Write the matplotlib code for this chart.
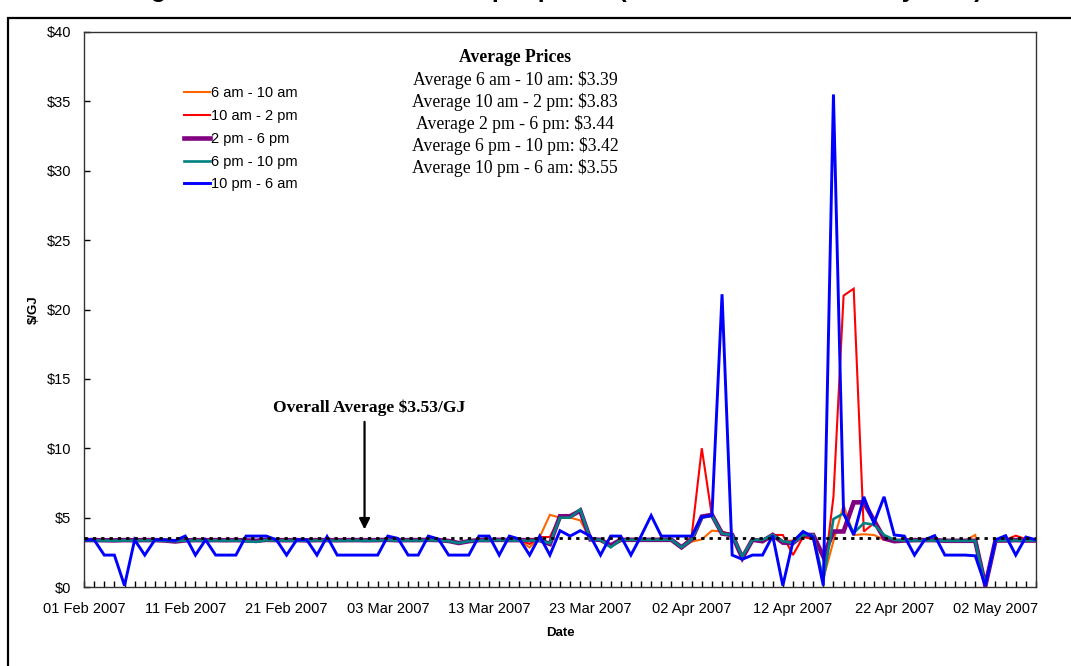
import matplotlib
matplotlib.use('Agg')
import matplotlib.pyplot as plt
import matplotlib.dates as mdates
from matplotlib.patches import Rectangle
import pandas as pd

# ---- data (daily, 01 Feb 2007 - 06 May 2007) ----
dates = pd.date_range('2007-02-01', periods=95, freq='D')

price_6am_10am = [
    3.35, 3.35, 3.33, 3.32, 3.35, 3.33, 3.34, 3.35, 3.33, 3.30,
    3.33, 3.35, 3.33, 3.35, 3.34, 3.35, 3.30, 3.28, 3.35, 3.35,
    3.34, 3.35, 3.33, 3.35, 3.35, 3.34, 3.35, 3.35, 3.34, 3.35,
    3.35, 3.33, 3.35, 3.35, 3.38, 3.35, 3.30, 3.17, 3.30, 3.35,
    3.35, 3.36, 3.35, 3.35, 2.85, 3.60, 5.20, 5.00, 5.00, 4.80,
    3.43, 3.40, 2.95, 3.40, 3.40, 3.40, 3.40, 3.40, 3.40, 2.86,
    3.27, 3.43, 4.06, 4.00, 3.60, 2.15, 3.40, 3.40, 3.75, 3.30,
    3.35, 3.75, 3.60, 0.60, 3.30, 5.90, 3.75, 3.80, 3.75, 3.40,
    3.35, 3.35, 3.35, 3.35, 3.35, 3.35, 3.35, 3.35, 3.75, 0.10,
    3.35, 3.35, 3.40, 3.35, 3.35]

price_10am_2pm = [
    3.38, 3.38, 3.37, 3.36, 3.38, 3.37, 3.38, 3.38, 3.36, 3.32,
    3.36, 3.38, 3.37, 3.38, 3.37, 3.38, 3.35, 3.33, 3.40, 3.38,
    3.37, 3.38, 3.36, 3.38, 3.38, 3.37, 3.38, 3.38, 3.37, 3.38,
    3.40, 3.37, 3.38, 3.38, 3.40, 3.38, 3.32, 3.17, 3.30, 3.38,
    3.38, 3.40, 3.38, 3.38, 3.10, 3.60, 3.60, 5.10, 5.10, 5.50,
    3.43, 3.40, 3.00, 3.40, 3.40, 3.40, 3.40, 3.40, 3.40, 2.86,
    3.67, 10.00, 5.10, 4.00, 3.75, 2.15, 3.40, 3.40, 3.75, 3.75,
    2.30, 3.60, 3.45, 0.50, 6.50, 21.00, 21.50, 4.00, 4.60, 3.50,
    3.38, 3.38, 3.38, 3.38, 3.38, 3.35, 3.35, 3.35, 3.35, 0.10,
    3.38, 3.40, 3.70, 3.45, 3.40]

price_2pm_6pm = [
    3.38, 3.38, 3.37, 3.36, 3.38, 3.37, 3.38, 3.38, 3.35, 3.28,
    3.36, 3.38, 3.37, 3.38, 3.37, 3.38, 3.36, 3.33, 3.40, 3.38,
    3.37, 3.38, 3.36, 3.38, 3.38, 3.37, 3.38, 3.38, 3.37, 3.38,
    3.40, 3.37, 3.38, 3.38, 3.40, 3.38, 3.32, 3.17, 3.30, 3.38,
    3.38, 3.40, 3.38, 3.38, 3.38, 3.38, 3.10, 5.10, 5.10, 5.50,
    3.43, 3.40, 3.00, 3.40, 3.40, 3.40, 3.40, 3.40, 3.40, 2.86,
    3.43, 5.07, 5.20, 3.85, 3.75, 2.10, 3.40, 3.30, 3.75, 3.20,
    3.17, 3.75, 3.75, 2.20, 4.00, 4.00, 6.10, 6.10, 4.80, 3.50,
    3.30, 3.35, 3.38, 3.38, 3.38, 3.33, 3.33, 3.33, 3.33, 0.10,
    3.35, 3.35, 3.38, 3.35, 3.35]

price_6pm_10pm = [
    3.35, 3.35, 3.34, 3.33, 3.35, 3.34, 3.35, 3.35, 3.33, 3.30,
    3.34, 3.35, 3.34, 3.35, 3.34, 3.35, 3.30, 3.25, 3.38, 3.35,
    3.34, 3.35, 3.33, 3.35, 3.35, 3.34, 3.35, 3.35, 3.34, 3.35,
    3.38, 3.34, 3.35, 3.35, 3.38, 3.35, 3.30, 3.17, 3.30, 3.35,
    3.35, 3.38, 3.35, 3.35, 3.35, 3.35, 3.15, 5.00, 5.00, 5.60,
    3.43, 3.40, 2.86, 3.40, 3.40, 3.40, 3.40, 3.40, 3.40, 2.86,
    3.43, 5.00, 5.15, 3.85, 3.75, 2.20, 3.40, 3.40, 3.75, 3.30,
    3.17, 3.75, 3.75, 0.50, 4.90, 5.30, 3.90, 4.60, 4.50, 3.75,
    3.40, 3.35, 3.35, 3.35, 3.35, 3.33, 3.33, 3.33, 3.33, 0.10,
    3.35, 3.35, 3.35, 3.35, 3.35]

price_10pm_6am = [
    3.40, 3.40, 2.30, 2.30, 0.10, 3.40, 2.30, 3.40, 3.40, 3.35,
    3.67, 2.30, 3.40, 2.30, 2.30, 2.30, 3.67, 3.67, 3.67, 3.40,
    2.30, 3.40, 3.40, 2.30, 3.63, 2.30, 2.30, 2.30, 2.30, 2.30,
    3.67, 3.50, 2.30, 2.30, 3.67, 3.45, 2.30, 2.30, 2.30, 3.67,
    3.67, 2.30, 3.67, 3.45, 2.30, 3.67, 2.30, 4.06, 3.67, 4.06,
    3.67, 2.30, 3.67, 3.67, 2.30, 3.67, 5.15, 3.67, 3.67, 3.67,
    3.67, 5.05, 5.15, 21.10, 2.30, 2.00, 2.30, 2.30, 3.70, 0.10,
    3.27, 4.00, 3.60, 0.10, 35.50, 5.30, 3.75, 6.50, 4.60, 6.50,
    3.75, 3.67, 2.30, 3.40, 3.70, 2.30, 2.30, 2.30, 2.25, 0.10,
    3.40, 3.70, 2.30, 3.60, 3.40]

series_labels = ['6 am - 10 am', '10 am - 2 pm', '2 pm - 6 pm', '6 pm - 10 pm', '10 pm - 6 am']
series_values = [price_6am_10am, price_10am_2pm, price_2pm_6pm, price_6pm_10pm, price_10pm_6am]
series_colors = ['#FF6600', '#FF0000', '#800080', '#008080', '#0000FF']
series_widths = [1.5, 1.5, 3.3, 1.9, 2.1]

avg_labels = ['Average 6 am - 10 am: $3.39', 'Average 10 am - 2 pm: $3.83',
              'Average 2 pm - 6 pm: $3.44', 'Average 6 pm - 10 pm: $3.42',
              'Average 10 pm - 6 am: $3.55']
overall_avg = 3.53

W, H = 1071, 666
fig = plt.figure(figsize=(W / 100, H / 100), dpi=100)
ax = fig.add_axes([84 / W, (H - 587) / H, 952 / W, 555 / H])

sans = 'Liberation Sans'
serif = 'Liberation Serif'

for lab, vals, col, lw in zip(series_labels, series_values, series_colors, series_widths):
    ax.plot(dates, vals, color=col, lw=lw, label=lab, solid_joinstyle='miter')

ax.axhline(overall_avg, color='black', lw=2, ls=(0, (1.2, 1.8)), zorder=5)

ax.set_xlim(dates[0], dates[-1])
ax.set_ylim(0, 40)
ax.set_yticks(range(0, 41, 5))
ax.set_yticklabels(['$%d' % v for v in range(0, 41, 5)], fontfamily=sans, fontsize=10.5)
ax.set_xticks(dates[::10])
ax.set_xticklabels([d.strftime('%d %b %Y') for d in dates[::10]], fontfamily=sans, fontsize=10.5)
ax.xaxis.set_minor_locator(mdates.DayLocator())
ax.tick_params(axis='both', which='both', direction='in', length=4, width=1, color='black')
ax.tick_params(axis='y', pad=9)
ax.tick_params(axis='x', pad=11)
ax.tick_params(right=False, top=False)
for s in ax.spines.values():
    s.set_color('#333333')
    s.set_linewidth(1)

ax.set_ylabel('$/GJ', fontfamily=sans, fontsize=9.5, fontweight='bold', labelpad=5)
ax.set_xlabel('Date', fontfamily=sans, fontsize=9.5, fontweight='bold', labelpad=8)

leg = ax.legend(loc='upper left', bbox_to_anchor=(0.097, 0.915), frameon=False,
                prop={'family': sans, 'size': 10.5}, handlelength=1.8, handletextpad=0.1,
                labelspacing=0.6, borderpad=0)

# average prices text box
fig.text(515 / W, 1 - 58 / H, 'Average Prices', ha='center', va='center',
         fontfamily=serif, fontsize=12.7, fontweight='bold')
for i, t in enumerate(avg_labels):
    fig.text(515 / W, 1 - (80 + 22.1 * i) / H, t, ha='center', va='center',
             fontfamily=serif, fontsize=12.7)

# overall average annotation
arrow_x = dates[0] + pd.Timedelta(days=27.7)
ax.annotate('', xy=(arrow_x, 3.95), xytext=(arrow_x, 12.1),
            arrowprops=dict(arrowstyle='-|>', color='black', lw=1.6, mutation_scale=16))
ax.text(dates[0] + pd.Timedelta(days=28.2), 12.95, 'Overall Average $3.53/GJ',
        ha='center', va='center', fontfamily=serif, fontsize=12.6, fontweight='bold')

# chart area border and cut-off title
fig.patches.append(Rectangle((8 / W, -0.1), 1.2, 1.1 - 18 / H, transform=fig.transFigure,
                             fill=False, edgecolor='black', lw=1.6, clip_on=False))
fig.text(545 / W, 1 + 2.5 / H, 'Weighted 4-hour mean ex-ante spot prices (time intervals in 2007 by date)',
         ha='center', va='baseline', fontfamily=sans, fontsize=18, fontweight='bold')

fig.savefig('out.png', dpi=100)
